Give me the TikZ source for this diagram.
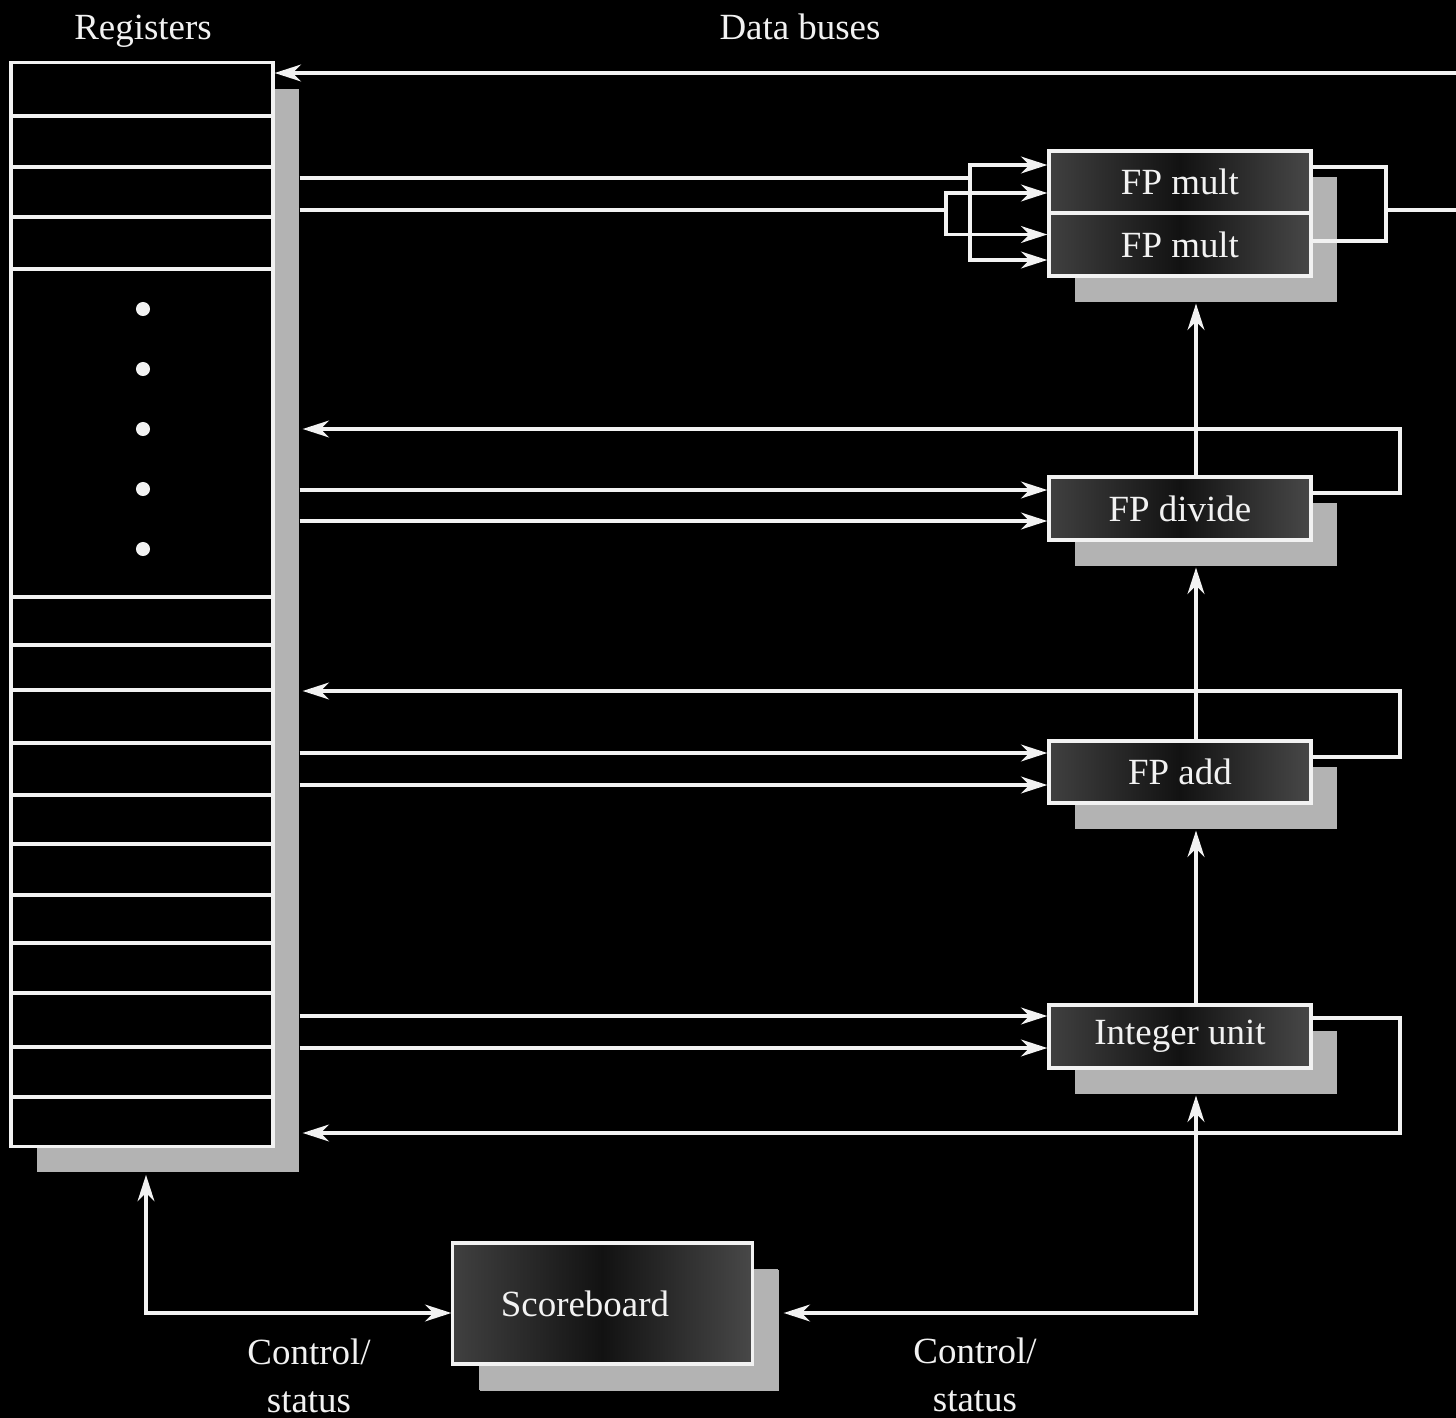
\documentclass[tikz,border=0pt]{standalone}
\usepackage{fontspec}
\setmainfont{Liberation Serif}
\usetikzlibrary{arrows.meta,shadows,calc}
\definecolor{ink}{HTML}{F2F2F2}
\definecolor{shadowgray}{HTML}{B3B3B3}
\definecolor{boxedgeA}{HTML}{404040}
\definecolor{boxedgeB}{HTML}{484848}
\definecolor{boxmid}{HTML}{121212}

\begin{document}
\begin{tikzpicture}[x=0.01cm,y=-0.01cm,
  >={Stealth[length=7.5pt,width=4.8pt,inset=2.4pt]},
  wire/.style={draw=ink,line width=0.9pt},
  arr/.style={wire,->},
  biarr/.style={wire,<->},
  boxshadow/.style={drop shadow={shadow xshift=0.26cm,shadow yshift=-0.26cm,fill=shadowgray,opacity=1}},
  txt/.style={text=ink,font=\fontsize{10.5}{13.7}\selectfont},
  unitbox/.style={boxshadow,draw=ink,line width=0.9pt,
    left color=boxedgeA,right color=boxedgeB,middle color=boxmid,
    txt,inner sep=0pt,minimum width=2.62cm,minimum height=0.63cm},
  regfile/.style={boxshadow,draw=ink,line width=0.9pt,fill=black,
    inner sep=0pt,minimum width=2.62cm,minimum height=10.83cm},
  lbl/.style={txt,align=center}]

% canvas
\fill[black] (0,0) rectangle (1456,1418);
\useasboundingbox (0,0) rectangle (1456,1418);

% register file
\node[regfile] (regs) at (142,604.5) {};
\foreach \y in {116,167,217,269,597,645,690,743,795,844,895,943,993,1047,1097} {
  \coordinate (t) at (0,\y);
  \draw[wire] (regs.west |- t) -- (regs.east |- t);
}
\foreach \y in {309,369,429,489,549}
  \fill[ink] (143,\y) circle[radius=0.07cm];

% functional units
\node[unitbox,minimum height=0.62cm] (m1) at (1180,182) {\raisebox{-0.02cm}{FP mult}};
\node[unitbox] (m2) at (1180,244.5) {FP mult};
\node[unitbox] (div) at (1180,508.5) {FP divide};
\node[unitbox,minimum height=0.62cm] (add) at (1180,772) {\raisebox{-0.02cm}{FP add}};
\node[unitbox] (int) at (1180,1036.5) {\raisebox{-0.02cm}{Integer unit}};
\node[unitbox,minimum width=2.99cm,minimum height=1.21cm,
      drop shadow={shadow xshift=0.27cm,shadow yshift=-0.27cm,fill=shadowgray,opacity=1}]
      (sb) at (602.5,1303.5) {\raisebox{-0.04cm}{Scoreboard}\hspace*{0.35cm}};

% titles
\node[lbl,anchor=base] (tReg) at (143,40) {Registers};
\node[lbl,anchor=base] (tBus) at (800,40) {Data buses};
\node[lbl] (cs1) at (309,1376) {Control/\\status};
\node[lbl] (cs2) at (975,1375) {Control/\\status};

% helper x positions: register-file shadow edge, return arrow tips, control line
\coordinate (rs) at ($(regs.east)+(25,0)$);
\coordinate (rt) at ($(regs.east)+(28,0)$);
\coordinate (cx) at (1196,0);

% top result bus into the register file
\coordinate (topR) at (1456,73);
\draw[arr] (topR) -- (topR -| regs.east);

% operand buses to the two multipliers
\coordinate (ma) at (970,178);
\coordinate (mb) at (946,210);
\draw[wire] (rs |- ma) -- (ma);
\draw[wire] (rs |- mb) -- (mb);
\draw[arr] (ma) |- ($(m1.west)+(0,-17)$);
\draw[arr] (ma) |- ($(m2.west)+(0,15.5)$);
\draw[arr] (mb) |- ($(m1.west)+(0,11)$);
\draw[arr] (mb) |- ($(m2.west)+(0,-10)$);

% multiplier results
\coordinate (mo) at (1386,210);
\coordinate (moR) at (1456,210);
\draw[wire] ($(m1.east)+(0,-15)$) -| (mo);
\draw[wire] ($(m2.east)+(0,-3.5)$) -| (mo);
\draw[wire] (mo) -- (moR);

% operand buses to divide, add, integer
\foreach \u/\a/\b in {div/-18.5/12.5, add/-19/13, int/-20.5/11.5} {
  \coordinate (ia) at ($(\u.west)+(0,\a)$);
  \coordinate (ib) at ($(\u.west)+(0,\b)$);
  \draw[arr] (rs |- ia) -- (ia);
  \draw[arr] (rs |- ib) -- (ib);
}

% result buses back to the register file
\coordinate (dret) at (1400,429);
\coordinate (aret) at (1400,691);
\coordinate (iret) at (1400,1133);
\draw[arr] ($(div.east)+(0,-15.5)$) -| (dret) -- (rt |- dret);
\draw[arr] ($(add.east)+(0,-15)$) -| (aret) -- (rt |- aret);
\draw[arr] ($(int.east)+(0,-18.5)$) -| (iret) -- (rt |- iret);

% control lines from the scoreboard
\draw[arr] (cx |- div.north) -- ($(cx |- m2.south)+(0,26)$);
\draw[arr] (cx |- add.north) -- ($(cx |- div.south)+(0,26)$);
\draw[arr] (cx |- int.north) -- ($(cx |- add.south)+(0,26)$);
\draw[biarr] ($(cx |- int.south)+(0,26)$) |- ($(sb.east)+(30,9.5)$);
\draw[biarr] ($(regs.south)+(4,27)$) |- ($(sb.west)+(0,9.5)$);
\end{tikzpicture}
\end{document}
